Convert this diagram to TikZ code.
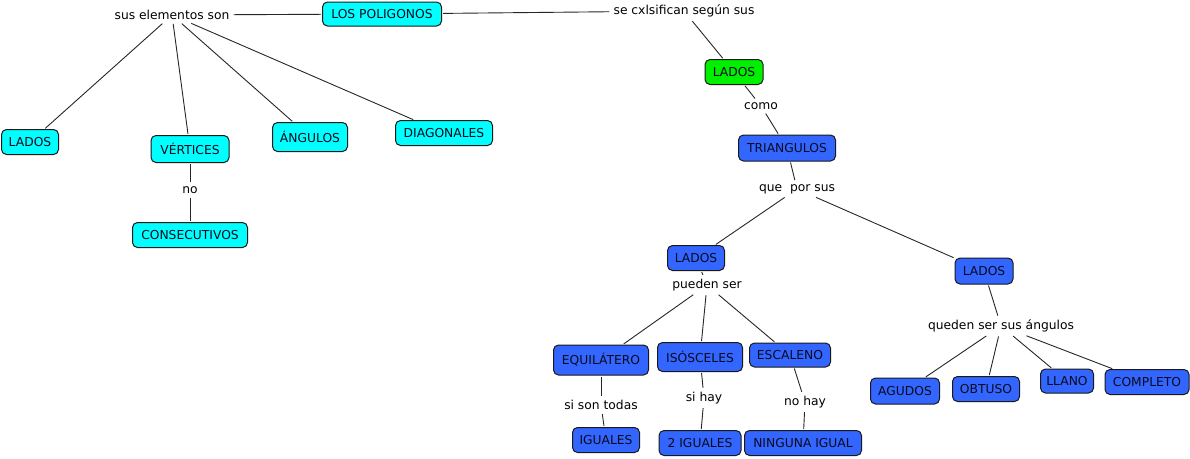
\documentclass[tikz,border=0pt]{standalone}
\usepackage{fontspec}
\setmainfont{DejaVu Sans}
\definecolor{cyanbox}{RGB}{0,255,255}
\definecolor{greenbox}{RGB}{0,240,0}
\definecolor{bluebox}{RGB}{51,102,255}
\definecolor{edge}{RGB}{25,25,25}
\definecolor{txt}{RGB}{10,10,30}
\begin{document}
\begin{tikzpicture}[x=1pt,y=-1pt,
  font=\fontsize{12.3}{14}\selectfont,
  box/.style={draw=edge,text=txt,line width=1pt,rounded corners=5pt,inner sep=0pt,align=center},
  cbox/.style={box,fill=cyanbox},
  gbox/.style={box,fill=greenbox},
  bbox/.style={box,fill=bluebox},
  lbl/.style={inner sep=3pt},
  conn/.style={draw=black!85,line width=0.9pt,shorten >=1pt,shorten <=1pt}]
\useasboundingbox (0,0) rectangle (1190,458);
% concepts
\node[cbox,minimum width=119,minimum height=24] (poli) at (382,14) {LOS POLIGONOS};
\node[cbox,minimum width=57,minimum height=25] (ladosA) at (30,142) {LADOS};
\node[cbox,minimum width=78,minimum height=27] (vert) at (190,149) {VÉRTICES};
\node[cbox,minimum width=115,minimum height=25] (consec) at (190,235) {CONSECUTIVOS};
\node[cbox,minimum width=75,minimum height=29] (angul) at (310,137) {ÁNGULOS};
\node[cbox,minimum width=97,minimum height=25] (diag) at (444,133) {DIAGONALES};
\node[gbox,minimum width=58,minimum height=25] (ladosG) at (734,72) {LADOS};
\node[bbox,minimum width=97,minimum height=26] (tri) at (787,148) {TRIANGULOS};
\node[bbox,minimum width=57,minimum height=25] (ladosL) at (696,258) {LADOS};
\node[bbox,minimum width=58,minimum height=26] (ladosR) at (984,271) {LADOS};
\node[bbox,minimum width=95,minimum height=30] (equi) at (601,360) {EQUILÁTERO};
\node[bbox,minimum width=85,minimum height=29] (isos) at (700,357) {ISÓSCELES};
\node[bbox,minimum width=81,minimum height=24] (esca) at (790,355) {ESCALENO};
\node[bbox,minimum width=67,minimum height=25] (igu) at (606,440) {IGUALES};
\node[bbox,minimum width=82,minimum height=25] (igu2) at (700,443) {2 IGUALES};
\node[bbox,minimum width=117,minimum height=25] (ning) at (803,443) {NINGUNA IGUAL};
\node[bbox,minimum width=69,minimum height=26] (agu) at (905,391) {AGUDOS};
\node[bbox,minimum width=67,minimum height=25] (obt) at (986,389) {OBTUSO};
\node[bbox,minimum width=53,minimum height=24] (llano) at (1067,381) {LLANO};
\node[bbox,minimum width=84,minimum height=25] (comp) at (1147,382) {COMPLETO};
% linking phrases
\node[lbl] (susel) at (172,15) {sus elementos son};
\node[lbl] (secl) at (684,11) {se cxlsifican según sus};
\node[lbl] (no) at (190,190) {no};
\node[lbl] (como) at (761,106) {como};
\node[lbl] (que) at (797,189) {que\ \ por sus};
\node[lbl] (pued) at (707,285) {pueden ser};
\node[lbl] (qued) at (1001,326) {queden ser sus ángulos};
\node[lbl] (sison) at (601,405) {si son todas};
\node[lbl] (sihay) at (704,398) {si hay};
\node[lbl] (nohay) at (805,402) {no hay};
% connectors
\draw[conn] (poli) -- (susel);
\draw[conn] (poli) -- (secl);
\draw[conn] (secl) -- (ladosG);
\draw[conn] (susel) -- (ladosA);
\draw[conn] (susel) -- (vert);
\draw[conn] (susel) -- (angul);
\draw[conn] (susel) -- (diag);
\draw[conn] (vert) -- (no);
\draw[conn] (no) -- (consec);
\draw[conn] (ladosG) -- (como);
\draw[conn] (como) -- (tri);
\draw[conn] (tri) -- (que);
\draw[conn] (que) -- (ladosL);
\draw[conn] (que) -- (ladosR);
\draw[conn] (ladosL) -- (pued);
\draw[conn] (pued) -- (equi);
\draw[conn] (pued) -- (isos);
\draw[conn] (pued) -- (esca);
\draw[conn] (equi) -- (sison);
\draw[conn] (sison) -- (igu);
\draw[conn] (isos) -- (sihay);
\draw[conn] (sihay) -- (igu2);
\draw[conn] (esca) -- (nohay);
\draw[conn] (nohay) -- (ning);
\draw[conn] (ladosR) -- (qued);
\draw[conn] (qued) -- (agu);
\draw[conn] (qued) -- (obt);
\draw[conn] (qued) -- (llano);
\draw[conn] (qued) -- (comp);
\end{tikzpicture}
\end{document}
